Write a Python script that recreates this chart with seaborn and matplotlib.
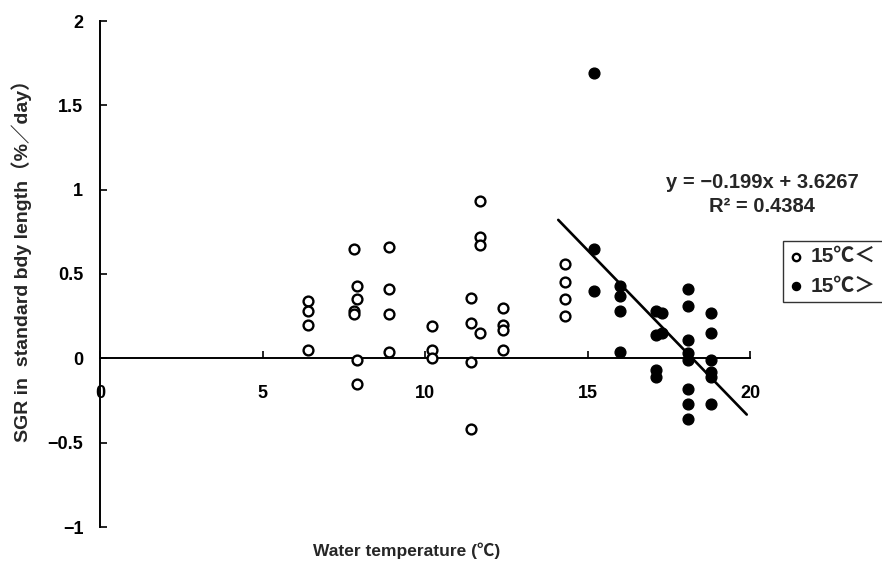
import matplotlib
matplotlib.use("Agg")
import matplotlib.pyplot as plt
import numpy as np
import pandas as pd
import seaborn as sns

# ---------------- data ----------------
cool_temp = [6.4, 6.4, 6.4, 6.4,
             7.8, 7.9, 7.9, 7.8, 7.8, 7.9, 7.9,
             8.9, 8.9, 8.9, 8.9,
             10.2, 10.2, 10.2,
             11.4, 11.4, 11.4, 11.4,
             11.7, 11.7, 11.7, 11.7,
             12.4, 12.4, 12.4, 12.4,
             14.3, 14.3, 14.3, 14.3]
cool_sgr = [0.34, 0.28, 0.20, 0.05,
            0.65, 0.43, 0.35, 0.28, 0.26, -0.01, -0.15,
            0.66, 0.41, 0.26, 0.04,
            0.19, 0.05, 0.00,
            0.36, 0.21, -0.02, -0.42,
            0.93, 0.72, 0.67, 0.15,
            0.30, 0.20, 0.17, 0.05,
            0.56, 0.45, 0.35, 0.25]

warm_temp = [15.2, 15.2, 15.2,
             16.0, 16.0, 16.0, 16.0,
             17.1, 17.1, 17.1, 17.1,
             17.3, 17.3,
             18.1, 18.1, 18.1, 18.1, 18.1, 18.1, 18.1, 18.1,
             18.8, 18.8, 18.8, 18.8, 18.8, 18.8]
warm_sgr = [1.69, 0.65, 0.40,
            0.43, 0.37, 0.28, 0.04,
            0.28, 0.14, -0.07, -0.11,
            0.27, 0.15,
            0.41, 0.31, 0.11, 0.03, -0.01, -0.18, -0.27, -0.36,
            0.27, 0.15, -0.01, -0.08, -0.11, -0.27]

fit_slope = -0.199
fit_intercept = 3.6267
fit_r2 = 0.4384
fit_range = [14.1, 19.9]

series_labels = ["15℃＜", "15℃＞"]
x_ticks = [0, 5, 10, 15, 20]
y_ticks = [-1, -0.5, 0, 0.5, 1, 1.5, 2]
y_tick_labels = ["−1", "−0.5", "0", "0.5", "1", "1.5", "2"]
x_label = "Water temperature (℃)"
y_label = "SGR in  standard bdy length（%／day）"

# ---------------- style ----------------
sns.set_style("white")
plt.rcParams["font.family"] = ["Liberation Sans", "Noto Sans CJK JP", "DejaVu Sans"]
plt.rcParams["font.weight"] = "bold"
plt.rcParams["axes.unicode_minus"] = True

fig = plt.figure(figsize=(8.82, 5.69), dpi=100)
ax = fig.add_axes([100 / 882, 1 - 527 / 569, 650 / 882, 506 / 569])

cool_df = pd.DataFrame({"temp": cool_temp, "sgr": cool_sgr})
warm_df = pd.DataFrame({"temp": warm_temp, "sgr": warm_sgr})

sns.scatterplot(data=cool_df, x="temp", y="sgr", ax=ax, marker="o", s=50,
                facecolor="white", edgecolor="black", linewidth=1.7,
                label=series_labels[0], zorder=3)
sns.scatterplot(data=warm_df, x="temp", y="sgr", ax=ax, marker="o", s=60,
                color="black", edgecolor="black", linewidth=1.0,
                label=series_labels[1], zorder=3)

fit_x = np.array(fit_range)
fit_y = fit_slope * fit_x + fit_intercept
sns.lineplot(x=fit_x, y=fit_y, ax=ax, color="black", linewidth=1.9, zorder=2)

ax.set_xlim(0, 20)
ax.set_ylim(-1, 2)
ax.set_xticks(x_ticks)
ax.set_xticklabels([str(t) for t in x_ticks])
ax.set_yticks(y_ticks)
ax.set_yticklabels(y_tick_labels)

for s in ["top", "right"]:
    ax.spines[s].set_visible(False)
ax.spines["bottom"].set_position(("data", 0))
ax.spines["left"].set_linewidth(1.4)
ax.spines["bottom"].set_linewidth(1.4)
ax.spines["left"].set_color("black")
ax.spines["bottom"].set_color("black")

ax.tick_params(axis="x", direction="in", length=5, width=1.2, pad=19,
               labelsize=13, colors="black", bottom=True)
ax.tick_params(axis="y", direction="in", length=5, width=1.2, pad=12,
               labelsize=13, colors="black", left=True)

ax.set_xlabel(x_label, fontsize=12.5, fontweight="bold")
ax.set_ylabel(y_label, fontsize=14, fontweight="bold")
ax.xaxis.set_label_coords(0.471, -0.047)
ax.xaxis.label.set_va("center")
ax.yaxis.set_label_coords(-0.12, 0.536)
ax.yaxis.label.set_va("center")

fig.text(762 / 882, 1 - 182 / 569,
         f"y = −{abs(fit_slope):.3f}x + {fit_intercept:.4f}",
         ha="center", va="center", fontsize=14.5, fontweight="bold")
fig.text(762 / 882, 1 - 207 / 569, f"R² = {fit_r2:.4f}",
         ha="center", va="center", fontsize=14.5, fontweight="bold")

if ax.legend_ is not None:
    ax.legend_.remove()
handles, labels = ax.get_legend_handles_labels()
leg = fig.legend(handles[:2], labels[:2], loc="upper left",
                 bbox_to_anchor=(783 / 882, 1 - 241 / 569),
                 bbox_transform=fig.transFigure,
                 frameon=True, fancybox=False, edgecolor="black",
                 prop={"size": 15, "weight": "bold"},
                 markerscale=0.75, handlelength=0.6,
                 handletextpad=0.45, borderpad=0.3, labelspacing=0.5,
                 borderaxespad=0)
leg.get_frame().set_linewidth(1.0)

fig.savefig("out.png", dpi=100, facecolor="white")
